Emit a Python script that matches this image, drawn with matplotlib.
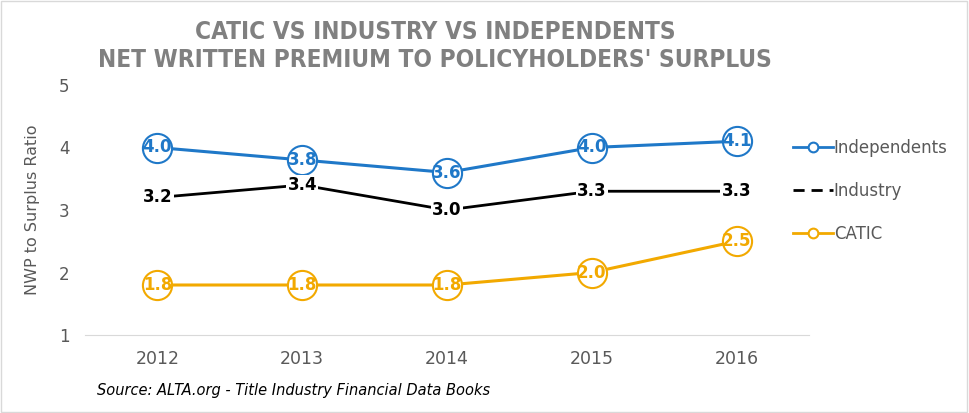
import matplotlib
matplotlib.use("Agg")
import matplotlib.pyplot as plt
from matplotlib.lines import Line2D
from matplotlib.patches import Rectangle

years = ["2012", "2013", "2014", "2015", "2016"]
independents = [4.0, 3.8, 3.6, 4.0, 4.1]
industry = [3.2, 3.4, 3.0, 3.3, 3.3]
catic = [1.8, 1.8, 1.8, 2.0, 2.5]

BLUE = "#1f78c8"
BLACK = "#000000"
GOLD = "#f2a900"
GRAY_TXT = "#595959"
TITLE_GRAY = "#808080"

fig = plt.figure(figsize=(9.69, 4.13), dpi=100)
ax = fig.add_axes([85 / 969, 1 - 335 / 413, (809 - 85) / 969, 250 / 413])

xs = list(range(len(years)))

# blue and gold series: big open circles with the value inside
for vals, col in [(independents, BLUE), (catic, GOLD)]:
    ax.plot(xs, vals, color=col, lw=2.2, marker="o", markersize=21,
            markerfacecolor="white", markeredgecolor=col, markeredgewidth=1.5,
            zorder=3)
    for x, v in zip(xs, vals):
        ax.text(x, v, f"{v:.1f}", ha="center", va="center", color=col,
                fontsize=12, fontweight="bold", zorder=4)

# industry: plain line, labels sit on it
ax.plot(xs, industry, color=BLACK, lw=2.0, zorder=2)
for x, v in zip(xs, industry):
    ax.text(x, v, f"{v:.1f}", ha="center", va="center", color=BLACK,
            fontsize=12, fontweight="bold", zorder=4,
            bbox=dict(facecolor="white", edgecolor="none", pad=1.0))

ax.set_xlim(-0.5, len(years) - 0.5)
ax.set_ylim(1, 5)
ax.set_yticks([1, 2, 3, 4, 5])
ax.set_xticks(xs)
ax.set_xticklabels(years)
ax.tick_params(axis="both", length=0, colors=GRAY_TXT, labelsize=12.5)
ax.tick_params(axis="y", pad=11, labelsize=12)
ax.tick_params(axis="x", pad=11)
for s in ["top", "right", "left"]:
    ax.spines[s].set_visible(False)
ax.spines["bottom"].set_color("#d9d9d9")
ax.set_ylabel("NWP to Surplus Ratio", color=GRAY_TXT, fontsize=11.5, labelpad=14)

handles = [
    Line2D([], [], color=BLUE, lw=2, marker="o", markersize=7,
           markerfacecolor="white", markeredgewidth=1.5),
    Line2D([], [], color=BLACK, lw=2, linestyle=(0, (4, 2.5))),
    Line2D([], [], color=GOLD, lw=2, marker="o", markersize=7,
           markerfacecolor="white", markeredgewidth=1.5),
]
fig.legend(handles, ["Independents", "Industry", "CATIC"],
           loc="upper left", bbox_to_anchor=(778 / 969, 1 - 124 / 413),
           frameon=False, fontsize=12, labelcolor=GRAY_TXT,
           handlelength=2.4, handletextpad=0.05, labelspacing=1.5)

fig.text(435 / 969, 1 - 46 / 413, "CATIC VS INDUSTRY VS INDEPENDENTS\nNET WRITTEN PREMIUM TO POLICYHOLDERS' SURPLUS",
         ha="center", va="center", fontsize=17.5, fontweight="bold",
         color=TITLE_GRAY, family="DejaVu Sans", fontstretch="condensed",
         linespacing=1.25)

fig.text(97 / 969, 1 - 391 / 413, "Source: ALTA.org - Title Industry Financial Data Books",
         ha="left", va="center", fontsize=10.5, style="italic", color=BLACK)

fig.patches.append(Rectangle((0.001, 0.002), 0.997, 0.995, transform=fig.transFigure,
                             fill=False, edgecolor="#d9d9d9", lw=1))

fig.savefig("out.png", dpi=100)
